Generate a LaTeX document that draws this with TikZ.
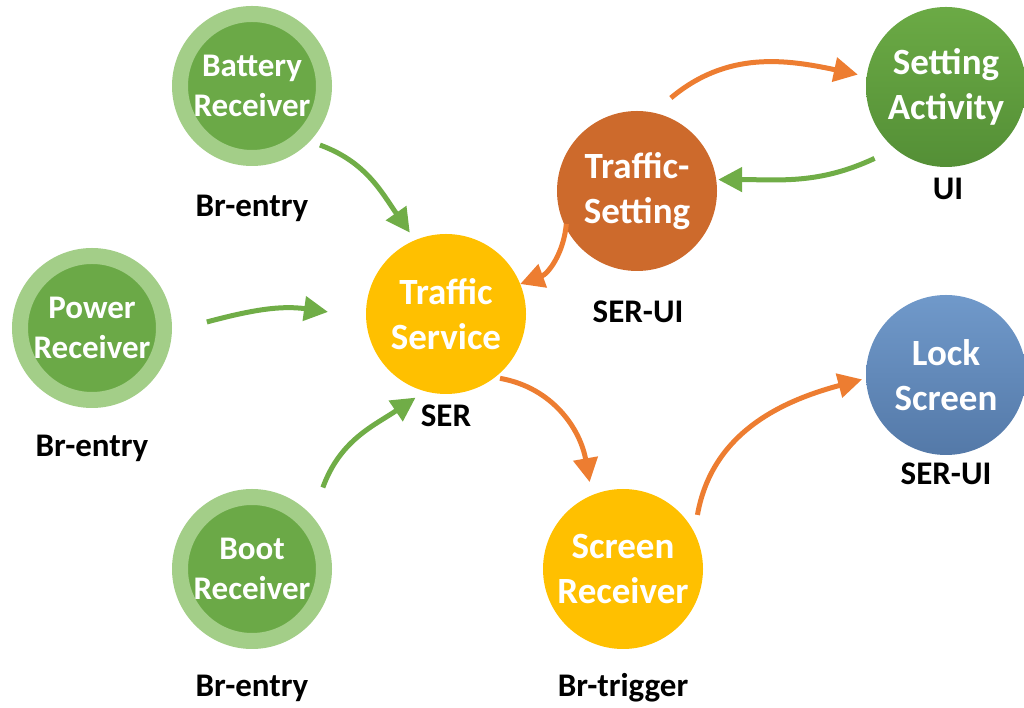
\documentclass[tikz,border=0pt]{standalone}
\usepackage{fontspec}
\setmainfont{Carlito}
\usetikzlibrary{arrows.meta}

\definecolor{recvring}{HTML}{A3CE88}
\definecolor{recvcore}{HTML}{6BA947}
\definecolor{gold}{HTML}{FFC000}
\definecolor{rust}{HTML}{CD6A2C}
\definecolor{leaftop}{HTML}{6BAA45}
\definecolor{leafbot}{HTML}{548F36}
\definecolor{skytop}{HTML}{7099CA}
\definecolor{skybot}{HTML}{5479A8}
\definecolor{flowgreen}{HTML}{70AD47}
\definecolor{floworange}{HTML}{ED7D31}

\tikzset{
  recv/.style={circle, fill=recvcore, draw=recvring, line width=16pt,
    minimum size=144pt, inner sep=0pt, text=white, align=center,
    font=\bfseries\fontsize{33}{40}\selectfont},
  bubble/.style={circle, minimum size=160pt, inner sep=0pt, text=white,
    align=center, font=\bfseries\fontsize{37}{45}\selectfont},
  tag/.style={anchor=base, text=black, inner sep=0pt,
    font=\bfseries\fontsize{33}{38}\selectfont},
  flow/.style={line width=5pt, -{Triangle[length=24pt,width=24pt]}},
}

\begin{document}
\begin{tikzpicture}[x=1pt, y=1pt]
  \useasboundingbox (0,0) rectangle (1024,708);

  % receivers
  \node[recv] (bat)  at (252,622) {Battery\\Receiver};
  \node[recv] (pow)  at (92,380)  {Power\\Receiver};
  \node[recv] (boot) at (252,139) {Boot\\Receiver};

  % services and activities
  \node[bubble, fill=gold] (tsv)  at (446,394) {Traffic\\Service};
  \node[bubble, fill=rust] (tset) at (637,517) {Traffic-\\Setting};
  \node[bubble, top color=leaftop, bottom color=leafbot] (sact) at (946,621) {Setting\\Activity};
  \node[bubble, top color=skytop, bottom color=skybot] (lock) at (946,333) {Lock\\Screen};
  \node[bubble, fill=gold] (scr)  at (623,139) {Screen\\Receiver};

  % role tags
  \node[tag] (tbat)  at (252,491) {Br-entry};
  \node[tag] (tpow)  at (92,251)  {Br-entry};
  \node[tag] (tboot) at (252,11)  {Br-entry};
  \node[tag] (ttsv)  at (446,281) {SER};
  \node[tag] (ttset) at (638,385) {SER-UI};
  \node[tag] (tsact) at (948,508) {UI};
  \node[tag] (tlock) at (946,223) {SER-UI};
  \node[tag] (tscr)  at (623,11)  {Br-trigger};

  % flows
  \draw[flow, flowgreen] ([shift={(-41:90)}]bat.center) to[out=-20, in=125] ([shift={(114:89)}]tsv.center);
  \draw[flow, flowgreen] ([shift={(3:115)}]pow.center) to[out=15, in=172] ([shift={(179:118)}]tsv.center);
  \draw[flow, flowgreen] ([shift={(49:108)}]boot.center) to[out=70, in=214] ([shift={(250:89)}]tsv.center);
  \draw[flow, floworange] ([shift={(205:78)}]tset.center) to[out=-95, in=20] ([shift={(22:80)}]tsv.center);
  \draw[flow, floworange] ([shift={(-50:84)}]tsv.center) to[out=-10, in=100] ([shift={(111:93)}]scr.center);
  \draw[flow, floworange] ([shift={(36:92)}]scr.center) to[out=80, in=195] ([shift={(183:84)}]lock.center);
  \draw[flow, floworange] ([shift={(70:99)}]tset.center) to[out=40, in=168] ([shift={(172:89)}]sact.center);
  \draw[flow, flowgreen] ([shift={(225:101)}]sact.center) to[out=205, in=0] ([shift={(8:82)}]tset.center);
\end{tikzpicture}
\end{document}
